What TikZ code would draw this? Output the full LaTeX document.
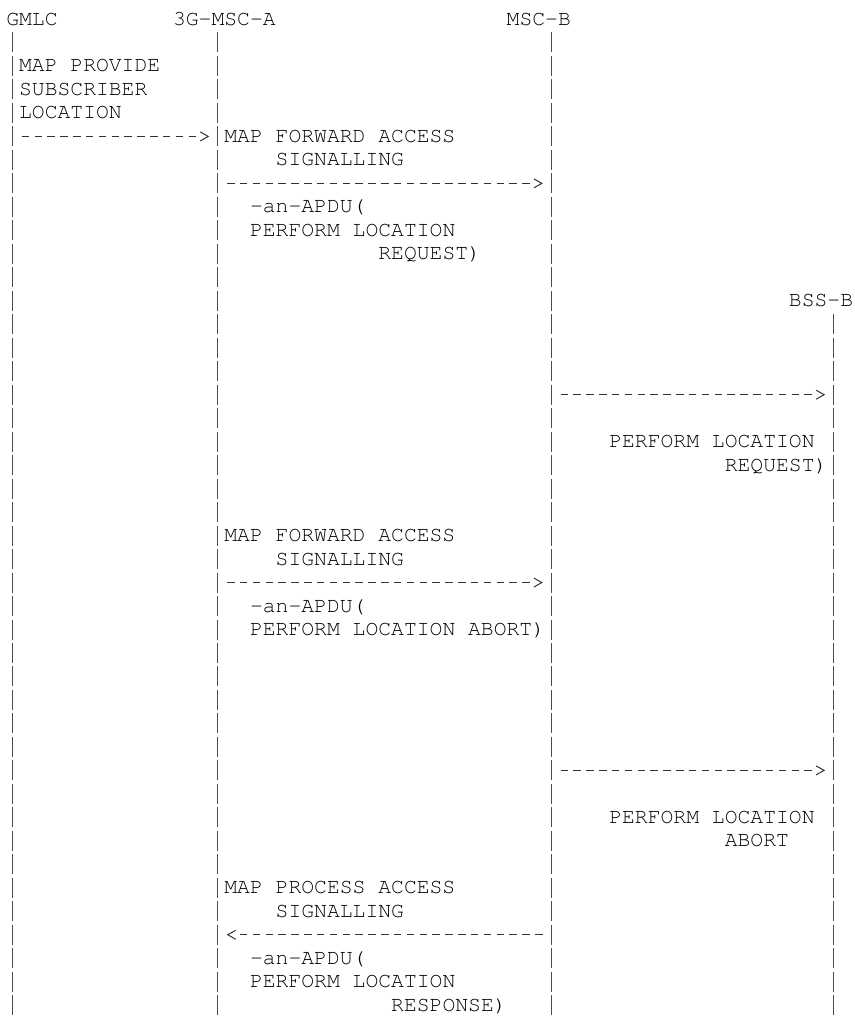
\documentclass[tikz,border=0pt]{standalone}
\usepackage[T1,TU]{fontenc}
\usepackage{tikz}
\usetikzlibrary{arrows.meta, decorations.markings}

\newcommand{\asciifont}{\fontencoding{T1}\fontfamily{pcr}\fontseries{m}\fontshape{n}\fontsize{21.38}{23.48}\selectfont}

\begin{document}
\begin{tikzpicture}[
    x=12.83pt, y=-23.48pt,
    lbl/.style={font=\asciifont, anchor=base west, inner sep=0pt, outer sep=0pt, text=black},
    lifeline/.style={draw=black!70, line width=1pt, dash pattern=on 20pt off 3.48pt, dash phase=21.74pt},
    msg/.style={draw=black!80, line width=1pt, dash pattern=on 7.5pt off 5.33pt, dash phase=10.18pt, shorten >=8.5pt,
        postaction={decorate, decoration={markings, mark=at position 1 with {\arrow{Straight Barb[length=8pt,width=9pt]}}}}}
  ]
    \useasboundingbox (-0.49,-0.309) rectangle (66.07,43.13);

    % Entities
    \node[lbl] (gmlc) at (0,0.756) {GMLC};
    \node[lbl] (msca) at (13,0.756) {3G-MSC-A};
    \node[lbl] (mscb) at (39,0.756) {MSC-B};
    \node[lbl] (bssb) at (61,12.756) {BSS-B};

    % Lifelines
    \coordinate (gmlc-top) at (0.5,1);
    \coordinate (gmlc-bot) at (0.5,43);
    \coordinate (msca-top) at (16.47,1);
    \coordinate (msca-bot) at (16.47,43);
    \coordinate (mscb-top) at (42.5,1);
    \coordinate (mscb-bot) at (42.5,43);
    \coordinate (bssb-top) at (64.5,13);
    \coordinate (bssb-bot) at (64.5,43);
    \draw[lifeline] (gmlc-top) -- (gmlc-bot);
    \draw[lifeline] (msca-top) -- (msca-bot);
    \draw[lifeline] (mscb-top) -- (mscb-bot);
    \draw[lifeline] (bssb-top) -- (bssb-bot);

    % GMLC -> 3G-MSC-A
    \node[lbl] (psl1) at (1,2.756) {MAP PROVIDE};
    \node[lbl] (psl2) at (1,3.756) {SUBSCRIBER};
    \node[lbl] (psl3) at (1,4.756) {LOCATION};
    \coordinate (m1s) at (1,5.5);
    \coordinate (m1e) at (15.82,5.5);
    \draw[msg] (m1s) -- (m1e);

    % 3G-MSC-A -> MSC-B (request)
    \node[lbl] (fas1a) at (17,5.756) {MAP FORWARD ACCESS};
    \node[lbl] (fas1b) at (21,6.756) {SIGNALLING};
    \coordinate (m2s) at (17,7.5);
    \coordinate (m2e) at (41.82,7.5);
    \draw[msg] (m2s) -- (m2e);
    \node[lbl] (apdu1a) at (19,8.756) {-an-APDU(};
    \node[lbl] (apdu1b) at (19,9.756) {PERFORM LOCATION};
    \node[lbl] (apdu1c) at (29,10.756) {REQUEST)};

    % MSC-B -> BSS-B (request)
    \coordinate (m3s) at (43,16.5);
    \coordinate (m3e) at (63.82,16.5);
    \draw[msg] (m3s) -- (m3e);
    \node[lbl] (req1) at (47,18.756) {PERFORM LOCATION};
    \node[lbl] (req2) at (56,19.756) {REQUEST)};

    % 3G-MSC-A -> MSC-B (abort)
    \node[lbl] (fas2a) at (17,22.756) {MAP FORWARD ACCESS};
    \node[lbl] (fas2b) at (21,23.756) {SIGNALLING};
    \coordinate (m4s) at (17,24.5);
    \coordinate (m4e) at (41.82,24.5);
    \draw[msg] (m4s) -- (m4e);
    \node[lbl] (apdu2a) at (19,25.756) {-an-APDU(};
    \node[lbl] (apdu2b) at (19,26.756) {PERFORM LOCATION ABORT)};

    % MSC-B -> BSS-B (abort)
    \coordinate (m5s) at (43,32.5);
    \coordinate (m5e) at (63.82,32.5);
    \draw[msg] (m5s) -- (m5e);
    \node[lbl] (abt1) at (47,34.756) {PERFORM LOCATION};
    \node[lbl] (abt2) at (56,35.756) {ABORT};

    % MSC-B -> 3G-MSC-A (response)
    \node[lbl] (pas1) at (17,37.756) {MAP PROCESS ACCESS};
    \node[lbl] (pas2) at (21,38.756) {SIGNALLING};
    \coordinate (m6s) at (42,39.5);
    \coordinate (m6e) at (17.18,39.5);
    \draw[msg] (m6s) -- (m6e);
    \node[lbl] (apdu3a) at (19,40.756) {-an-APDU(};
    \node[lbl] (apdu3b) at (19,41.756) {PERFORM LOCATION};
    \node[lbl] (apdu3c) at (30,42.756) {RESPONSE)};
  \end{tikzpicture}
\end{document}
